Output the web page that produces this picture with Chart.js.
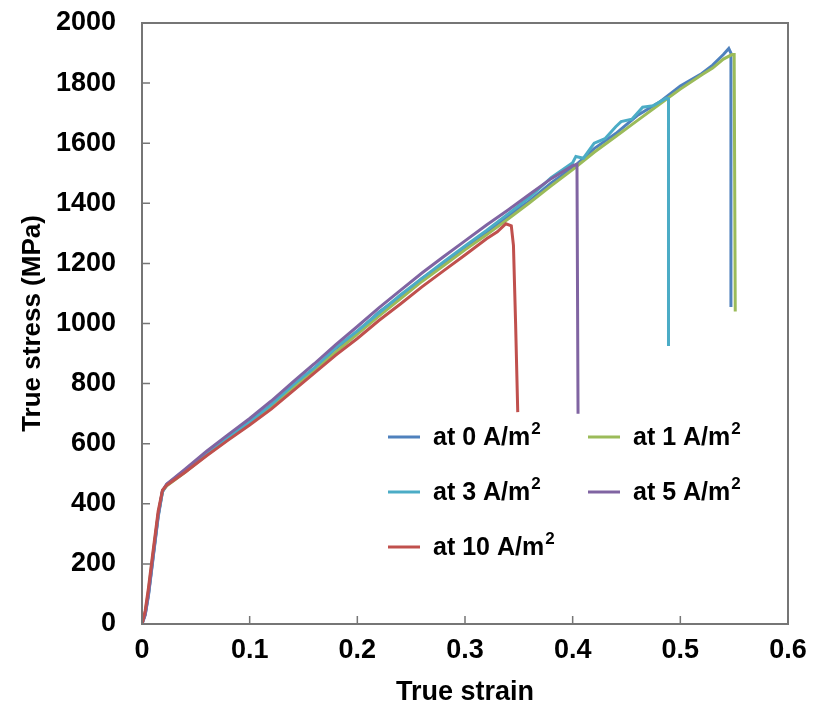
<!DOCTYPE html>
<html>
<head>
<meta charset="utf-8">
<script src="https://cdn.jsdelivr.net/npm/chart.js@4"></script>
<style>
  html, body { margin: 0; padding: 0; background: #fff; }
  #c { display: block; }
</style>
</head>
<body>
<canvas id="c" width="816" height="709"></canvas>
<script>
// stress-strain curves
var seriesNames = ['at 0 A/m', 'at 1 A/m', 'at 3 A/m', 'at 5 A/m', 'at 10 A/m'];
var seriesColors = ['#4F81BD', '#9BBB59', '#4BACC6', '#8064A2', '#C0504D'];

var strain0 = [0, 0.003, 0.006, 0.010, 0.015, 0.019, 0.023, 0.04, 0.06, 0.08, 0.10, 0.12, 0.14, 0.16, 0.18, 0.20, 0.22, 0.24, 0.26, 0.28, 0.30, 0.32, 0.34, 0.36, 0.38, 0.40, 0.42, 0.44, 0.46, 0.48, 0.50, 0.52, 0.53, 0.54, 0.545, 0.547, 0.547];
var stress0 = [0, 30, 95, 210, 355, 440, 465, 510, 570, 622, 675, 728, 792, 850, 917, 972, 1038, 1090, 1150, 1198, 1255, 1300, 1358, 1408, 1468, 1518, 1582, 1632, 1692, 1735, 1790, 1832, 1860, 1895, 1915, 1900, 1055];

var strain1 = [0, 0.003, 0.006, 0.010, 0.015, 0.019, 0.023, 0.04, 0.06, 0.08, 0.10, 0.12, 0.14, 0.16, 0.18, 0.20, 0.22, 0.24, 0.26, 0.28, 0.30, 0.32, 0.34, 0.36, 0.38, 0.40, 0.42, 0.44, 0.46, 0.48, 0.50, 0.52, 0.53, 0.54, 0.548, 0.550, 0.551];
var stress1 = [0, 38, 110, 225, 365, 442, 460, 505, 562, 615, 665, 722, 785, 845, 905, 965, 1025, 1082, 1140, 1192, 1245, 1295, 1348, 1402, 1458, 1512, 1570, 1622, 1675, 1728, 1780, 1828, 1850, 1880, 1895, 1895, 1040];

var strain3 = [0, 0.003, 0.006, 0.010, 0.015, 0.019, 0.023, 0.04, 0.06, 0.08, 0.10, 0.12, 0.14, 0.16, 0.18, 0.20, 0.22, 0.24, 0.26, 0.28, 0.30, 0.32, 0.34, 0.36, 0.38, 0.40, 0.403, 0.41, 0.42, 0.43, 0.44, 0.445, 0.455, 0.465, 0.475, 0.487, 0.489, 0.489];
var stress3 = [0, 35, 100, 215, 360, 440, 463, 512, 568, 620, 672, 730, 795, 852, 920, 975, 1035, 1095, 1150, 1205, 1258, 1310, 1365, 1420, 1485, 1535, 1556, 1550, 1600, 1615, 1655, 1672, 1680, 1720, 1725, 1750, 1748, 925];

var strain5 = [0, 0.003, 0.006, 0.010, 0.015, 0.019, 0.023, 0.04, 0.06, 0.08, 0.10, 0.12, 0.14, 0.16, 0.18, 0.20, 0.22, 0.24, 0.26, 0.28, 0.30, 0.32, 0.34, 0.36, 0.38, 0.40, 0.404, 0.405];
var stress5 = [0, 32, 100, 218, 362, 444, 466, 515, 575, 630, 684, 742, 805, 866, 930, 990, 1052, 1110, 1168, 1222, 1275, 1328, 1378, 1430, 1482, 1525, 1530, 700];

var strain10 = [0, 0.003, 0.006, 0.010, 0.015, 0.019, 0.023, 0.04, 0.06, 0.08, 0.10, 0.12, 0.14, 0.16, 0.18, 0.20, 0.22, 0.24, 0.26, 0.28, 0.30, 0.32, 0.33, 0.338, 0.343, 0.345, 0.347, 0.349];
var stress10 = [0, 45, 120, 235, 375, 445, 462, 505, 560, 612, 662, 715, 775, 835, 895, 950, 1010, 1065, 1122, 1175, 1228, 1282, 1305, 1332, 1325, 1260, 1000, 705];

var strainTicks = [0, 0.1, 0.2, 0.3, 0.4, 0.5, 0.6];
var stressTicks = [0, 200, 400, 600, 800, 1000, 1200, 1400, 1600, 1800, 2000];

var allStrain = [strain0, strain1, strain3, strain5, strain10];
var allStress = [stress0, stress1, stress3, stress5, stress10];

function toPoints(xs, ys) {
  return xs.map(function(x, i) { return { x: x, y: ys[i] }; });
}

var FONT = '"Liberation Sans", Arial, sans-serif';
var AXIS_GREY = '#767676';

var datasets = seriesNames.map(function(name, i) {
  return {
    label: name + '2',
    data: toPoints(allStrain[i], allStress[i]),
    borderColor: seriesColors[i],
    backgroundColor: seriesColors[i],
    showLine: true, pointRadius: 0, borderWidth: 3, tension: 0,
    order: seriesNames.length - i
  };
});

// box round the plot area plus inward tick marks
var frameTicks = {
  id: 'frameTicks',
  afterDatasetsDraw: function(chart) {
    var ctx = chart.ctx, a = chart.chartArea;
    var xs = chart.scales.x, ys = chart.scales.y;
    ctx.save();
    ctx.strokeStyle = AXIS_GREY;
    ctx.lineWidth = 2;
    ctx.strokeRect(a.left, a.top, a.right - a.left, a.bottom - a.top);
    ctx.lineWidth = 1.5;
    ctx.beginPath();
    strainTicks.forEach(function(v) {
      var px = xs.getPixelForValue(v);
      ctx.moveTo(px, a.bottom); ctx.lineTo(px, a.bottom - 8);
    });
    stressTicks.forEach(function(v) {
      var py = ys.getPixelForValue(v);
      ctx.moveTo(a.left, py); ctx.lineTo(a.left + 8, py);
    });
    ctx.stroke();
    ctx.restore();
  }
};

// legend laid out in two columns inside the plot
var boxLegend = {
  id: 'boxLegend',
  afterDraw: function(chart) {
    var ctx = chart.ctx, a = chart.chartArea;
    var slots = [[0, 0], [1, 0], [0, 1], [1, 1], [0, 2]];
    ctx.save();
    seriesNames.forEach(function(name, i) {
      var lx = a.left + 246 + slots[i][0] * 200;
      var ly = a.top + 414 + slots[i][1] * 55;
      ctx.strokeStyle = seriesColors[i];
      ctx.lineWidth = 3;
      ctx.beginPath();
      ctx.moveTo(lx, ly); ctx.lineTo(lx + 32, ly);
      ctx.stroke();
      ctx.fillStyle = '#000';
      ctx.textBaseline = 'middle';
      ctx.textAlign = 'left';
      ctx.font = 'bold 25px ' + FONT;
      ctx.fillText(name, lx + 45, ly + 1);
      var w = ctx.measureText(name).width;
      ctx.font = 'bold 17px ' + FONT;
      ctx.fillText('2', lx + 46 + w, ly - 8);
    });
    ctx.restore();
  }
};

new Chart(document.getElementById('c'), {
  type: 'scatter',
  data: { datasets: datasets },
  options: {
    responsive: false,
    animation: false,
    devicePixelRatio: 1,
    layout: { padding: { top: 23, right: 28, left: 0, bottom: 0 } },
    plugins: { legend: { display: false }, tooltip: { enabled: false } },
    scales: {
      x: {
        type: 'linear', min: 0, max: 0.6,
        afterFit: function(s) { s.height = 85; s.paddingLeft = 0; s.paddingRight = 0; },
        grid: { display: false, drawTicks: false },
        border: { display: false },
        ticks: {
          stepSize: 0.1, padding: 10, color: '#000', maxRotation: 0,
          font: { family: FONT, size: 27, weight: 'bold' },
          callback: function(v) { return String(Math.round(v * 10) / 10); }
        },
        title: {
          display: true, text: 'True strain', color: '#000',
          font: { family: FONT, size: 27, weight: 'bold' },
          padding: { top: 0, bottom: 0 }
        }
      },
      y: {
        type: 'linear', min: 0, max: 2000,
        afterFit: function(s) { s.width = 142; s.paddingTop = 0; s.paddingBottom = 0; },
        grid: { display: false, drawTicks: false },
        border: { display: false },
        ticks: {
          stepSize: 200, padding: 26, color: '#000',
          font: { family: FONT, size: 27, weight: 'bold' },
          callback: function(v) { return String(v); }
        },
        title: {
          display: true, text: 'True stress (MPa)', color: '#000',
          font: { family: FONT, size: 26, weight: 'bold' },
          padding: { top: 17, bottom: 0 }
        }
      }
    }
  },
  plugins: [frameTicks, boxLegend]
});
</script>
</body>
</html>
